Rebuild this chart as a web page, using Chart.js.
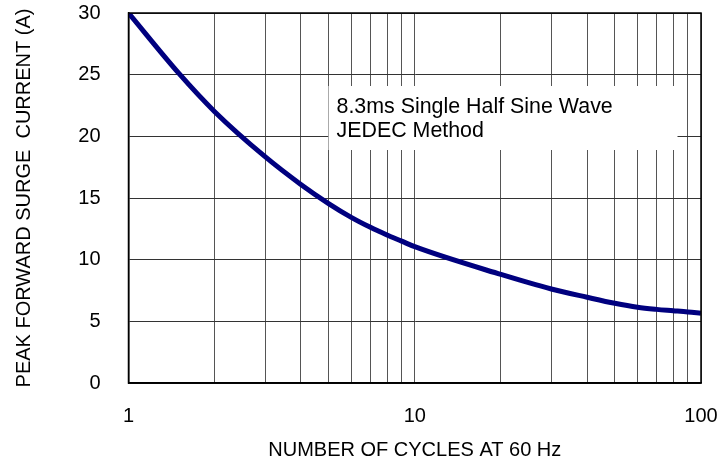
<!DOCTYPE html>
<html>
<head>
<meta charset="utf-8">
<script src="https://cdn.jsdelivr.net/npm/chart.js@4/dist/chart.umd.min.js"></script>
<style>
  html, body { margin: 0; padding: 0; background: #fff; }
</style>
</head>
<body>
<canvas id="surge" width="728" height="463"></canvas>
<script>
const cycles = [1, 1.5, 2, 3, 4, 5, 6, 7, 8, 9, 10, 20, 30, 40, 50, 60, 70, 80, 90, 100];
const current = [30, 25.1, 22.0, 18.35, 16.1, 14.55, 13.43, 12.62, 12.0, 11.5, 11.05, 8.8, 7.62, 6.95, 6.46, 6.14, 5.97, 5.86, 5.76, 5.65];

const xGrid = [1, 2, 3, 4, 5, 6, 7, 8, 9, 10, 20, 30, 40, 50, 60, 70, 80, 90, 100];
const xLabels = [1, 10, 100];
const noteLines = ['8.3ms Single Half Sine Wave', 'JEDEC Method'];

const FONT = "'Liberation Sans', Arial, sans-serif";

// white note box over the grid + black frame round the plot
const notePlugin = {
  id: 'note',
  beforeDatasetsDraw(chart) {
    const {ctx, chartArea: a} = chart;
    ctx.save();
    ctx.fillStyle = '#fff';
    ctx.fillRect(a.left + 200, a.top + 73, 349, 64);
    ctx.fillStyle = '#000';
    ctx.font = '21.4px ' + FONT;
    ctx.textBaseline = 'alphabetic';
    noteLines.forEach((t, i) => ctx.fillText(t, a.left + 208, a.top + 100 + i * 24));
    ctx.restore();
  },
  afterDraw(chart) {
    const {ctx, chartArea: a} = chart;
    ctx.save();
    ctx.strokeStyle = '#000';
    ctx.lineWidth = 1.5;
    ctx.strokeRect(a.left, a.top, a.right - a.left, a.bottom - a.top);
    ctx.restore();
  }
};

new Chart(document.getElementById('surge'), {
  type: 'line',
  data: {
    datasets: [{
      data: cycles.map((c, i) => ({x: c, y: current[i]})),
      borderColor: '#00007f',
      borderWidth: 5,
      pointRadius: 0,
      cubicInterpolationMode: 'monotone',
      fill: false
    }]
  },
  options: {
    responsive: false,
    animation: false,
    layout: {padding: {top: 13, right: 27, left: 0, bottom: 0}},
    plugins: {legend: {display: false}, tooltip: {enabled: false}},
    scales: {
      x: {
        type: 'logarithmic',
        min: 1,
        max: 100,
        afterBuildTicks: s => { s.ticks = xGrid.map(v => ({value: v})); },
        afterFit: s => { s.height = 80; s.paddingLeft = 0; s.paddingRight = 0; },
        grid: {color: '#555', lineWidth: 1, drawTicks: false},
        border: {color: '#000', width: 1.5},
        ticks: {
          autoSkip: false,
          maxRotation: 0,
          padding: 21,
          color: '#000',
          font: {family: FONT, size: 20},
          callback: v => xLabels.includes(v) ? String(v) : ''
        },
        title: {
          display: true,
          text: 'NUMBER OF CYCLES AT 60 Hz',
          color: '#000',
          font: {family: FONT, size: 20},
          padding: {top: 0, bottom: 1}
        }
      },
      y: {
        min: 0,
        max: 30,
        afterFit: s => { s.width = 128.5; s.paddingTop = 0; s.paddingBottom = 0; },
        grid: {color: '#333', lineWidth: 1, drawTicks: false},
        border: {color: '#000', width: 1.5},
        ticks: {
          stepSize: 5,
          padding: 28,
          color: '#000',
          font: {family: FONT, size: 20}
        },
        title: {
          display: true,
          text: 'PEAK FORWARD SURGE  CURRENT (A)',
          color: '#000',
          font: {family: FONT, size: 20},
          padding: {top: 12, bottom: 0}
        }
      }
    }
  },
  plugins: [notePlugin]
});
</script>
</body>
</html>
